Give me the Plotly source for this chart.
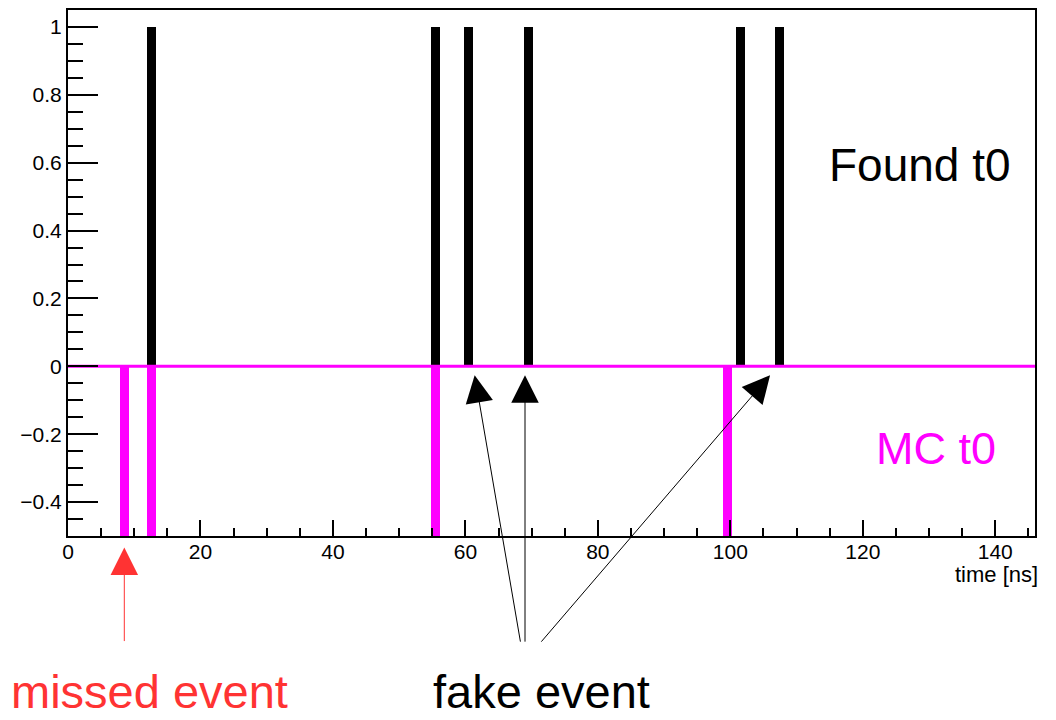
import plotly.graph_objects as go

# ---- data ----
found_t0 = [12.6, 55.5, 60.5, 69.5, 101.5, 107.4]   # found t0 times [ns]
found_val = [1, 1, 1, 1, 1, 1]
mc_t0 = [8.5, 12.6, 55.5, 99.6]                      # MC t0 times [ns]
mc_val = [-0.5, -0.5, -0.5, -0.5]
missed_t0 = 8.5                                      # missed event
fake_tips = [61.4, 69.0, 106.0]                      # fake event arrow tips
x_range = [0, 146]
y_range = [-0.5, 1.05]

MAG = "#ff00ff"
RED = "#ff3333"
FONT = "Liberation Sans, Arial, Helvetica, sans-serif"

fig = go.Figure()
fig.add_trace(go.Bar(x=found_t0, y=found_val, base=0, width=1.3,
                     marker=dict(color="black", line=dict(width=0)),
                     showlegend=False, hoverinfo="x"))
fig.add_trace(go.Bar(x=mc_t0, y=mc_val, base=0, width=1.35,
                     marker=dict(color=MAG, line=dict(width=0)),
                     showlegend=False, hoverinfo="x"))
# magenta baseline at y = 0
fig.add_trace(go.Scatter(x=x_range, y=[0, 0], mode="lines",
                         line=dict(color=MAG, width=3),
                         showlegend=False, hoverinfo="skip"))

# arrows
fig.add_annotation(x=missed_t0, y=-0.022, xref="x", yref="paper",
                   ax=0, ay=95, axref="pixel", ayref="pixel",
                   showarrow=True, arrowhead=2, arrowsize=5.5, arrowwidth=1,
                   arrowcolor=RED, text="")
tail_dx = [46, 0, -230]
for tip, dx in zip(fake_tips, tail_dx):
    fig.add_annotation(x=tip, y=-0.026, xref="x", yref="y",
                       ax=dx, ay=268, axref="pixel", ayref="pixel",
                       showarrow=True, arrowhead=2, arrowsize=5.5, arrowwidth=1,
                       arrowcolor="black", text="")

# texts
fig.add_annotation(text="Found t0", x=0.881, y=0.706, xref="paper", yref="paper",
                   xanchor="center", yanchor="middle", showarrow=False,
                   font=dict(family=FONT, size=46, color="black"))
fig.add_annotation(text="MC t0", x=0.898, y=0.167, xref="paper", yref="paper",
                   xanchor="center", yanchor="middle", showarrow=False,
                   font=dict(family=FONT, size=45, color=MAG))
fig.add_annotation(text="missed event", x=0.084, y=-0.3475, xref="paper", yref="paper",
                   xanchor="center", yanchor="bottom", showarrow=False, borderpad=0,
                   font=dict(family=FONT, size=47, color=RED))
fig.add_annotation(text="fake event", x=0.490, y=-0.3475, xref="paper", yref="paper",
                   xanchor="center", yanchor="bottom", showarrow=False, borderpad=0,
                   font=dict(family=FONT, size=47, color="black"))
fig.add_annotation(text="time [ns]", x=1.005, y=-0.073, xref="paper", yref="paper",
                   xanchor="right", yanchor="middle", showarrow=False,
                   font=dict(family=FONT, size=22, color="black"))

fig.update_layout(
    width=1056, height=720,
    margin=dict(l=68, r=21, t=8, b=184),
    paper_bgcolor="white", plot_bgcolor="white",
    barmode="overlay", bargap=0,
    font=dict(family=FONT, size=21, color="black"),
    xaxis=dict(range=x_range, showgrid=False, zeroline=False,
               showline=True, linecolor="black", linewidth=2, mirror=True,
               ticks="inside", ticklen=16, tickwidth=2, tickcolor="black",
               tick0=0, dtick=20, ticklabelstandoff=-4,
               minor=dict(ticks="inside", ticklen=8, tickwidth=2, tickcolor="black", dtick=5),
               tickfont=dict(family=FONT, size=21, color="black")),
    yaxis=dict(range=y_range, showgrid=False, zeroline=False,
               showline=True, linecolor="black", linewidth=2, mirror=True,
               ticks="inside", ticklen=30, tickwidth=2, tickcolor="black",
               tick0=0, dtick=0.2,
               minor=dict(ticks="inside", ticklen=15, tickwidth=2, tickcolor="black", dtick=0.05),
               tickfont=dict(family=FONT, size=21, color="black")),
)

fig.write_html("out.html")
